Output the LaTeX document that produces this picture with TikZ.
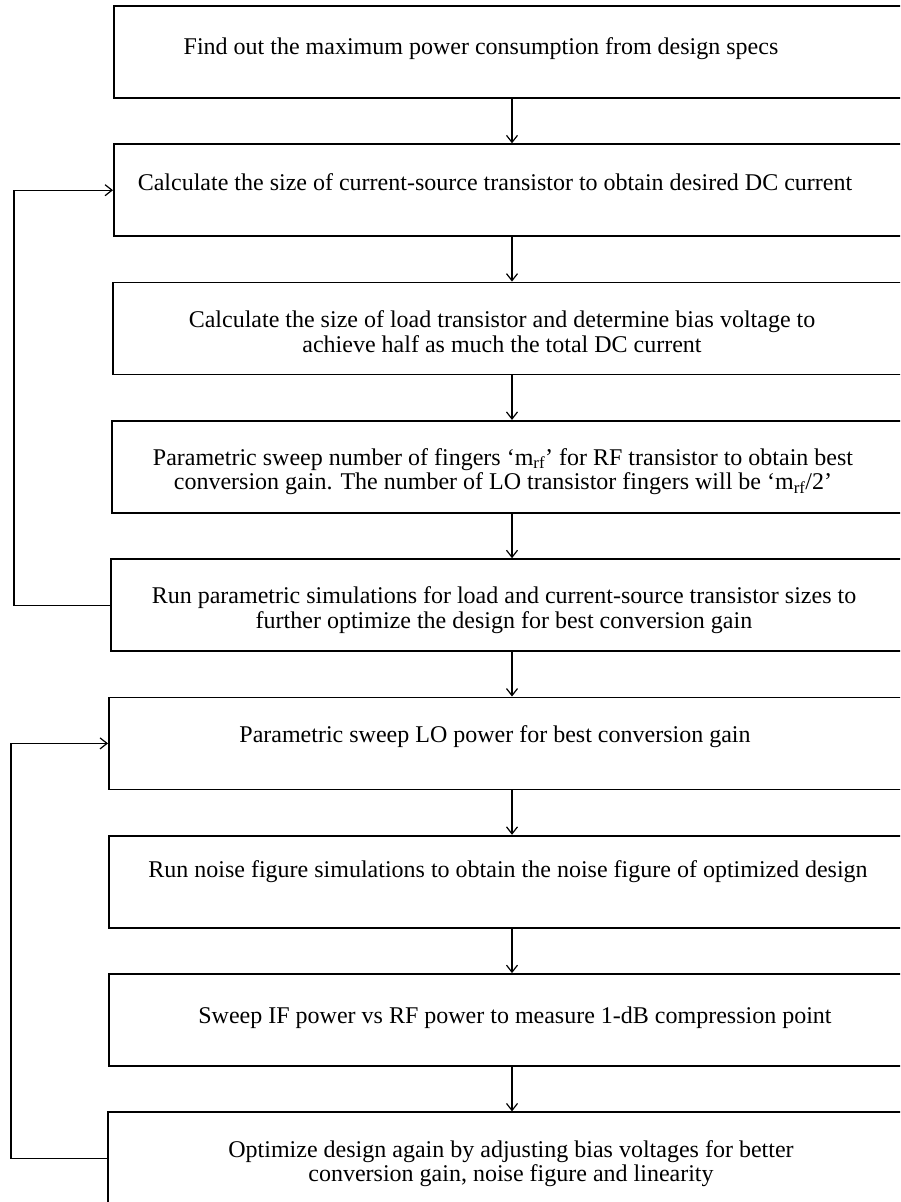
\documentclass[tikz,border=0pt]{standalone}
\usepackage{fontspec}
\setmainfont{Liberation Serif}
\usetikzlibrary{arrows.meta}
\begin{document}
\begin{tikzpicture}[x=1pt,y=-1pt,
  stepbox/.style={draw=black,line width=1.8pt,minimum height=92pt,inner sep=0pt,anchor=north west},
  txt/.style={font=\fontsize{24}{23}\selectfont,align=center,inner sep=0pt},
  one/.style={txt,text height=16pt,text depth=5pt},
  arr/.style={line width=1.2pt,-{Straight Barb[length=7pt,width=11pt,line width=1.2pt]}}]
\useasboundingbox (0,0) rectangle (900,1202);
\fill[white] (0,0) rectangle (900,1202);
\clip (0,0) rectangle (900,1202);
% boxes
\node[stepbox,minimum width=800pt] (b1) at (113,5) {};
\node[stepbox,minimum width=800pt] (b2) at (113,143.3) {};
\node[stepbox,minimum width=801pt] (b3) at (112,281.6) {};
\node[stepbox,minimum width=802pt] (b4) at (111,419.9) {};
\node[stepbox,minimum width=803pt] (b5) at (110,558.2) {};
\node[stepbox,minimum width=805pt] (b6) at (108,696.5) {};
\node[stepbox,minimum width=805pt] (b7) at (108,834.8) {};
\node[stepbox,minimum width=805pt] (b8) at (108,973.1) {};
\node[stepbox,minimum width=806pt] (b9) at (107,1111.4) {};
% texts
\node[one] (t1) at (481,49) {Find out the maximum power consumption from design specs};
\node[one] (t2) at (495,185.3) {Calculate the size of current-source transistor to obtain desired DC current};
\node[txt] (t3) at (502,334.6) {\strut Calculate the size of load transistor and determine bias voltage to\\\strut achieve half as much the total DC current};
\node[txt] (t4) at (503,472.4) {\strut Parametric sweep number of fingers ‘m\textsubscript{rf}’ for RF transistor to obtain best\\\strut conversion gain. The number of LO transistor fingers will be ‘m\textsubscript{rf}/2’};
\node[txt] (t5) at (504,611.2) {\strut Run parametric simulations for load and current-source transistor sizes to\\\strut further optimize the design for best conversion gain};
\node[one] (t6) at (495,736.5) {Parametric sweep LO power for best conversion gain};
\node[one] (t7) at (508,872) {Run noise figure simulations to obtain the noise figure of optimized design};
\node[one] (t8) at (515,1018) {Sweep IF power vs RF power to measure 1-dB compression point};
\node[txt] (t9) at (511,1164.4) {\strut Optimize design again by adjusting bias voltages for better\\\strut conversion gain, noise figure and linearity};
% connectors
\coordinate (ax) at (512,0);
\coordinate (lx1) at (14,0);
\coordinate (lx2) at (11,0);
\foreach \a/\b in {b1/b2,b2/b3,b3/b4,b4/b5,b5/b6,b6/b7,b7/b8,b8/b9}
  \draw[arr] (\a.south -| ax) -- (\b.north -| ax);
\draw[arr] (b5.west) -- (b5.west -| lx1) |- (b2.west);
\draw[arr] (b9.west) -- (b9.west -| lx2) |- (b6.west);
\end{tikzpicture}
\end{document}
